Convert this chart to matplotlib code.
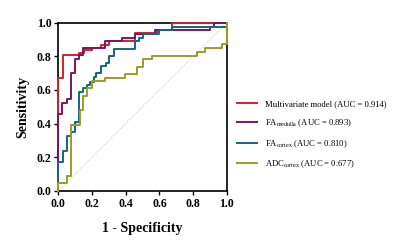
import numpy as np
import matplotlib
matplotlib.use('Agg')
import matplotlib.pyplot as plt

plt.rcParams['font.family'] = 'Liberation Serif'

# ROC step points (fpr, tpr)
fpr_multi = [0, 0, 0.026, 0.026, 0.12, 0.12, 0.15, 0.15, 0.2, 0.2, 0.25, 0.25, 0.3, 0.3, 0.455, 0.455, 0.585, 0.585, 0.673, 0.673, 1.0]
tpr_multi = [0, 0.669, 0.669, 0.806, 0.806, 0.822, 0.822, 0.837, 0.837, 0.851, 0.851, 0.870, 0.870, 0.889, 0.889, 0.937, 0.937, 0.956, 0.956, 1.0, 1.0]

fpr_med = [0, 0, 0.024, 0.024, 0.05, 0.05, 0.073, 0.073, 0.098, 0.098, 0.123, 0.123, 0.148, 0.148, 0.277, 0.277, 0.376, 0.376, 0.455, 0.455, 0.574, 0.574, 0.90, 0.90, 0.924, 0.924, 1.0]
tpr_med = [0, 0.454, 0.454, 0.522, 0.522, 0.544, 0.544, 0.699, 0.699, 0.784, 0.784, 0.806, 0.806, 0.851, 0.851, 0.889, 0.889, 0.911, 0.911, 0.935, 0.935, 0.956, 0.956, 0.978, 0.978, 1.0, 1.0]

fpr_cor = [0, 0, 0.026, 0.026, 0.052, 0.052, 0.075, 0.075, 0.097, 0.097, 0.121, 0.121, 0.145, 0.145, 0.172, 0.172, 0.19, 0.19, 0.21, 0.21, 0.225, 0.225, 0.25, 0.25, 0.28, 0.28, 0.3, 0.3, 0.33, 0.33, 0.455, 0.455, 0.48, 0.48, 0.5, 0.5, 0.6, 0.6, 0.673, 0.673, 1.0, 1.0]
tpr_cor = [0, 0.171, 0.171, 0.238, 0.238, 0.326, 0.326, 0.348, 0.348, 0.41, 0.41, 0.589, 0.589, 0.61, 0.61, 0.63, 0.63, 0.65, 0.65, 0.675, 0.675, 0.70, 0.70, 0.74, 0.74, 0.762, 0.762, 0.80, 0.80, 0.845, 0.845, 0.889, 0.889, 0.911, 0.911, 0.933, 0.933, 0.956, 0.956, 0.976, 0.976, 1.0]

fpr_adc = [0, 0, 0.052, 0.052, 0.075, 0.075, 0.129, 0.129, 0.148, 0.148, 0.172, 0.172, 0.198, 0.198, 0.277, 0.277, 0.396, 0.396, 0.465, 0.465, 0.5, 0.5, 0.555, 0.555, 0.826, 0.826, 0.871, 0.871, 0.97, 0.97, 1.0, 1.0]
tpr_adc = [0, 0.044, 0.044, 0.087, 0.087, 0.391, 0.391, 0.48, 0.48, 0.564, 0.564, 0.61, 0.61, 0.653, 0.653, 0.673, 0.673, 0.695, 0.695, 0.738, 0.738, 0.782, 0.782, 0.80, 0.80, 0.824, 0.824, 0.848, 0.848, 0.872, 0.872, 1.0]

labels = ['Multivariate model (AUC = 0.914)',
          r'$\mathregular{FA_{medulla}}$ (AUC = 0.893)',
          r'$\mathregular{FA_{cortex}}$ (AUC = 0.810)',
          r'$\mathregular{ADC_{cortex}}$ (AUC = 0.677)']
colors = ['#CB2230', '#7B1562', '#14687A', '#9C9C28']

fig = plt.figure(figsize=(4, 2.48), dpi=100)
ax = fig.add_axes([0.146, 0.231, 0.421, 0.677])

ax.plot([0, 1], [0, 1], color='#c8c8c8', lw=0.6, ls=(0, (1.5, 1.5)), zorder=1)
curves = [(fpr_multi, tpr_multi), (fpr_med, tpr_med), (fpr_cor, tpr_cor), (fpr_adc, tpr_adc)]
handles = []
for (x, y), c, lab in zip(curves, colors, labels):
  h, = ax.plot(x, y, color=c, lw=1.4, clip_on=False, zorder=3, label=lab)
  handles.append(h)

ticks = np.arange(0, 1.01, 0.2)
ax.set_xlim(0, 1)
ax.set_ylim(0, 1)
ax.set_xticks(ticks)
ax.set_yticks(ticks)
ax.set_xticklabels(['%.1f' % v for v in ticks], fontweight='bold', fontsize=8.5)
ax.set_yticklabels(['%.1f' % v for v in ticks], fontweight='bold', fontsize=8.5)
ax.tick_params(direction='out', length=3, width=1.0, pad=2)
for s in ax.spines.values():
  s.set_linewidth(1.2)
ax.set_xlabel('1 - Specificity', fontweight='bold', fontsize=10, labelpad=9)
ax.set_ylabel('Sensitivity', fontweight='bold', fontsize=10, labelpad=5)

fig.legend(handles=handles, loc='upper left', bbox_to_anchor=(0.585, 0.61),
           frameon=False, fontsize=6.2, handlelength=2.3, handletextpad=0.9,
           labelspacing=1.05, borderaxespad=0)

fig.savefig('out.png', dpi=100)
